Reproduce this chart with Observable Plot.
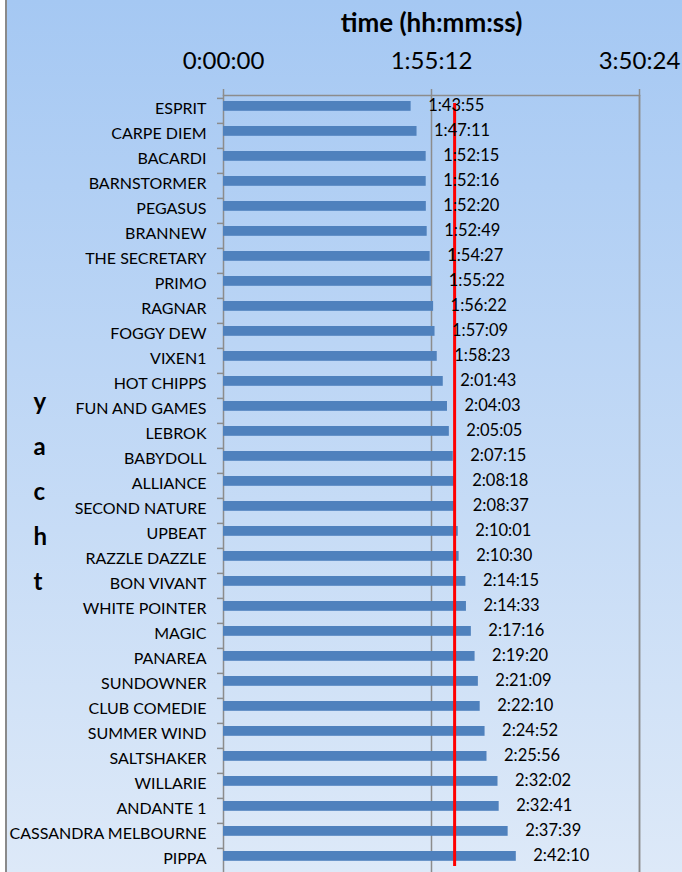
<!DOCTYPE html>
<html><head><meta charset="utf-8">
<script src="https://cdn.jsdelivr.net/npm/d3@7"></script>
<script src="https://cdn.jsdelivr.net/npm/@observablehq/plot@0.6"></script>
<style>
html,body{margin:0;padding:0;background:#fff;}
#wrap{position:relative;width:682px;height:872px;overflow:hidden;}
#bg{position:absolute;left:5px;top:0;width:677px;height:872px;border-left:2px solid #8a8a8a;background:linear-gradient(to bottom,#a5c8f3,#dde9f8);}
#chart{position:absolute;left:0;top:0;}
</style></head><body>
<div id="wrap"><div id="bg"></div><div id="chart"></div></div>
<script>
const yachts = ["ESPRIT","CARPE DIEM","BACARDI","BARNSTORMER","PEGASUS","BRANNEW","THE SECRETARY","PRIMO","RAGNAR","FOGGY DEW","VIXEN1","HOT CHIPPS","FUN AND GAMES","LEBROK","BABYDOLL","ALLIANCE","SECOND NATURE","UPBEAT","RAZZLE DAZZLE","BON VIVANT","WHITE POINTER","MAGIC","PANAREA","SUNDOWNER","CLUB COMEDIE","SUMMER WIND","SALTSHAKER","WILLARIE","ANDANTE 1","CASSANDRA MELBOURNE","PIPPA"];
const times = ["1:43:55","1:47:11","1:52:15","1:52:16","1:52:20","1:52:49","1:54:27","1:55:22","1:56:22","1:57:09","1:58:23","2:01:43","2:04:03","2:05:05","2:07:15","2:08:18","2:08:37","2:10:01","2:10:30","2:14:15","2:14:33","2:17:16","2:19:20","2:21:09","2:22:10","2:24:52","2:25:56","2:32:02","2:32:41","2:37:39","2:42:10"];
const xTickLabels = ["0:00:00","1:55:12","3:50:24"];
const referenceTime = "2:08:00";
const xTitle = "time (hh:mm:ss)";
const yTitle = "yacht";

const toSec = s => { const [h, m, ss] = s.split(":").map(Number); return h * 3600 + m * 60 + ss; };
const fmt = v => { const h = Math.floor(v / 3600), m = Math.floor((v % 3600) / 60), s = Math.round(v % 60); return `${h}:${String(m).padStart(2, "0")}:${String(s).padStart(2, "0")}`; };
const data = yachts.map((name, i) => ({name, t: toSec(times[i]), label: times[i]}));
const xTicks = xTickLabels.map(toSec);
const font = "Lato, 'Liberation Sans', sans-serif";
const grey = "#8c8c8c";

const chart = Plot.plot({
  width: 682, height: 880,
  marginLeft: 223, marginRight: 43, marginTop: 95, marginBottom: 4,
  style: {background: "transparent", fontFamily: font, color: "#000", overflow: "visible"},
  x: {domain: [0, xTicks[2]], axis: null},
  y: {domain: yachts, padding: 0, axis: null},
  marks: [
    Plot.gridX(xTicks.slice(1), {stroke: grey, strokeOpacity: 1, strokeWidth: 1.5}),
    Plot.frame({stroke: grey, strokeWidth: 1.5}),
    Plot.ruleY(yachts, {y: d => d, x1: 0, x2: 0, insetLeft: -6, dy: -12.6, stroke: grey, strokeWidth: 1.5}),
    Plot.barX(data, {x: "t", y: "name", fill: "#4f81bd", insetTop: 3, insetBottom: 12.2}),
    Plot.ruleX([toSec(referenceTime)], {stroke: "#ff0000", strokeWidth: 3, insetTop: 8, insetBottom: 10}),
    Plot.text(data, {x: "t", y: "name", text: "label", textAnchor: "start", dx: 17, dy: -5, fontSize: 16.5, fill: "#000"}),
    Plot.axisY({tickSize: 0, tickPadding: 17, dy: -2, fontSize: 16, label: null, fill: "#000"}),
    Plot.axisX(xTicks, {anchor: "top", tickFormat: fmt, tickSize: 7, tickPadding: 20, fontSize: 24, label: null, stroke: grey, strokeWidth: 1.5, fill: "#000"}),
    Plot.text([xTitle], {frameAnchor: "top", dy: -82, fontSize: 26, fontWeight: "bold", fill: "#000"}),
    Plot.text([yTitle.split("").join("\n")], {frameAnchor: "left", dx: -190, dy: 0, lineHeight: 1.875, fontSize: 24, fontWeight: "bold", fill: "#000"})
  ]
});
document.getElementById("chart").appendChild(chart);
</script>
</body></html>
